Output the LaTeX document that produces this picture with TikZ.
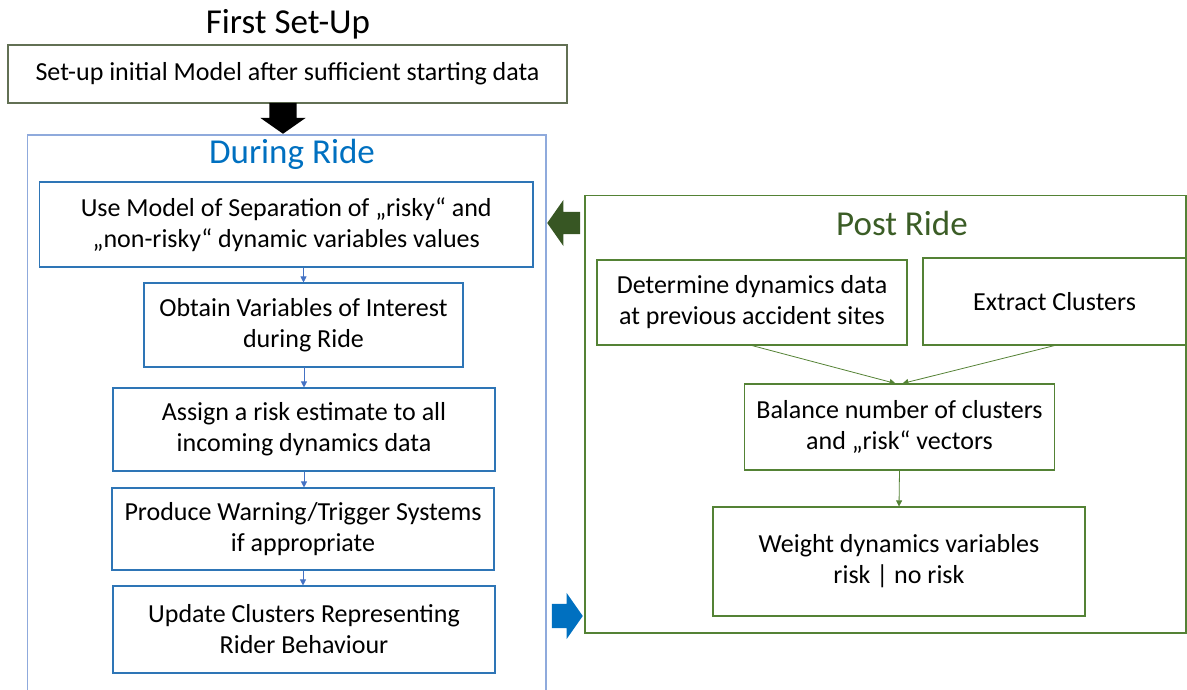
\documentclass[tikz,border=0pt]{standalone}
\usepackage{fontspec}
\setmainfont{Carlito}
\usepackage{tikz}
\usetikzlibrary{shapes.arrows, arrows.meta, calc}
\definecolor{setupgrey}{RGB}{98,112,84}
\definecolor{rideframe}{RGB}{143,170,220}
\definecolor{ridebox}{RGB}{46,117,182}
\definecolor{rideblue}{RGB}{0,112,192}
\definecolor{ridearrow}{RGB}{68,114,196}
\definecolor{postgreen}{RGB}{84,130,53}
\definecolor{postdark}{RGB}{55,86,35}
\tikzstyle{frame} = [rectangle, draw, line width=1.1pt, inner sep=0pt]
\tikzstyle{process} = [rectangle, draw, line width=1.1pt, align=center, inner sep=0pt, font=\fontsize{26}{31}\selectfont]
\tikzstyle{ridestep} = [process, draw=ridebox]
\tikzstyle{poststep} = [process, draw=postgreen]
\tikzstyle{heading} = [anchor=base, inner sep=0pt, font=\fontsize{35}{40}\selectfont]
\tikzstyle{blockarrow} = [single arrow, single arrow tip angle=110, single arrow head indent=0pt, inner xsep=0pt, draw=none, anchor=tip]
\tikzstyle{ridelink} = [line width=0.8pt, draw=ridearrow, -{Triangle[width=6pt,length=6pt]}]
\tikzstyle{postlink} = [line width=0.8pt, draw=postgreen, -{Triangle[width=6pt,length=6pt]}]

\begin{document}
\begin{tikzpicture}[x=1pt, y=-1pt]
    \useasboundingbox (0,0) rectangle (1187,690);

    \node (first_setup_title) [heading] at (288,34) {First Set-Up};

    \node (initial_model) [process, draw=setupgrey, minimum width=559pt, minimum height=58pt] at (287.5,74) {Set-up initial Model after sufficient starting data};

    \node (setup_arrow) [blockarrow, fill=black, rotate=-90, minimum height=31pt, inner ysep=13.5pt, single arrow head extend=9pt] at (283,134) {};

    % during ride
    \node (during_ride) [frame, draw=rideframe, minimum width=518.5pt, minimum height=570pt] at (286.75,420) {};

    \node (during_ride_title) [heading, text=rideblue] at (292,164) {During Ride};

    \node (use_model) [ridestep, minimum width=493.5pt, minimum height=85pt] at (286.25,224.5) {Use Model of Separation of „risky“ and\\„non-risky“ dynamic variables values};

    \node (obtain_variables) [ridestep, minimum width=319pt, minimum height=84pt] at (303.5,325) {Obtain Variables of Interest\\during Ride};

    \node (assign_risk) [ridestep, minimum width=382pt, minimum height=83pt] at (304,429.5) {Assign a risk estimate to all\\incoming dynamics data};

    \node (produce_warning) [ridestep, minimum width=382pt, minimum height=82pt] at (303,529) {Produce Warning/Trigger Systems\\if appropriate};

    \node (update_clusters) [ridestep, minimum width=382pt, minimum height=87pt] at (304,629.5) {Update Clusters Representing\\Rider Behaviour};

    \draw [ridelink] (obtain_variables.north |- use_model.south) -- (obtain_variables.north);
    \draw [ridelink] (obtain_variables.south) -- (assign_risk.north |- obtain_variables.south) -- (assign_risk.north);
    \draw [ridelink] (assign_risk.south) -- (assign_risk.south |- produce_warning.north);
    \draw [ridelink] (produce_warning.south) -- (produce_warning.south |- update_clusters.north);

    % post ride
    \node (post_ride) [frame, draw=postgreen, minimum width=601pt, minimum height=437.5pt] at (885.5,414.25) {};

    \node (post_ride_title) [heading, text=postdark!85!postgreen] at (902,235) {Post Ride};

    \node (accident_sites) [poststep, minimum width=310pt, minimum height=85pt] at (752,302.5) {Determine dynamics data\\at previous accident sites};

    \node (extract_clusters) [poststep, minimum width=263pt, minimum height=87pt] at (1054.5,301.5) {Extract Clusters};

    \node (balance_clusters) [poststep, minimum width=310pt, minimum height=86pt] at (899.5,427) {Balance number of clusters\\and „risk“ vectors};

    \node (weight_variables) [poststep, minimum width=372pt, minimum height=109pt] at (899,561.5) {Weight dynamics variables\\risk | no risk};

    \draw [postlink] (accident_sites.south) -- ($(balance_clusters.north)+(-4,0)$);
    \draw [postlink] (extract_clusters.south) -- ($(balance_clusters.north)+(3,0)$);
    \draw [postlink] (balance_clusters.south) -- (weight_variables.north);

    % feedback arrows
    \node (post_to_ride) [blockarrow, fill=postdark, rotate=180, minimum height=33pt, inner ysep=11pt, single arrow head extend=12pt] at (547,223) {};

    \node (ride_to_post) [blockarrow, fill=rideblue, minimum height=31pt, inner ysep=12pt, single arrow head extend=11pt] at (583,616) {};

\end{tikzpicture}
\end{document}
